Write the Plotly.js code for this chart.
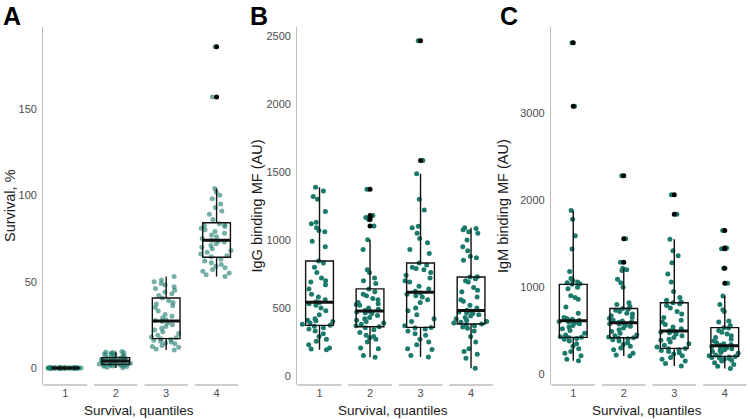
<!DOCTYPE html>
<html><head><meta charset="utf-8">
<script src="https://cdn.plot.ly/plotly-3.0.1.min.js"></script>
<style>html,body{margin:0;padding:0;background:#fff}#chart{width:750px;height:419px}</style>
</head><body><div id="chart"></div>
<script>
// ---------- data ----------
const categories = [1, 2, 3, 4];
const tickLabels = ['1', '2', '3', '4'];

// Panel A: Survival, %
const survivalQ1 = [0,0,0,0,0,0,0,0,0,0,0,0,0,0,0,0,0,0,0,0,0,0,0,0,0,0,0,0,0,0,0,0,0,0,0,0,0,0,0,0,0,0,0,0,0];
const survivalQ2 = [0.2,0.5,0.8,1,1.1,1.3,1.5,1.6,1.8,1.9,2,2,2.1,2.3,2.5,2.7,2.9,3,3.2,3.4,3.5,3.7,3.8,3.9,4,4.1,4.3,4.5,4.7,4.9,5,5.2,5.4,5.5,5.7,5.8,6,6.1,6.5,7,7.3,7.6,8,8.2,8.5,8.8,9,9.3,9.5];
const survivalQ3 = [10.4,11,12,12.5,13,14,14.5,15,15.5,16,16.5,17,17.5,18,19,20,21,22,23,24,25,26,27,27.5,28,29,30,31,33,35,36,37,38,39,40.5,42,43,44,45,46,47,48,49,50,51,53];
const survivalQ4 = [53,54,55,56,57,58,59,60,61,62,63,64.5,65,66,67,68,69,70,71,72,73,73.5,74,75,76,77,78,79,80,81,82,82.5,83,83.5,86,89,91,93,95,98,100,102,104,157,186];

// Panel B: IgG binding MF (AU)
const iggQ1 = [192,198,205,230,255,270,290,310,330,345,355,365,372,380,390,400,405,410,420,450,480,500,520,530,540,545,560,580,600,640,670,690,700,720,760,800,830,845,950,990,1060,1070,1090,1120,1130,1210,1300,1320,1360,1388];
const iggQ2 = [138,150,200,205,250,270,280,290,300,320,340,355,362,370,380,390,400,410,420,430,445,460,465,470,475,481,490,500,520,525,530,540,560,570,590,600,620,640,680,700,720,760,780,930,1001,1102,1150,1165,1180,1373];
const iggQ3 = [140,150,195,200,230,250,270,300,310,330,345,352,357,370,400,420,450,480,500,540,560,580,590,600,610,622,640,660,690,700,720,740,760,780,790,800,815,830,900,930,980,1010,1050,1090,1100,1220,1300,1487,1585,2465];
const iggQ4 = [57,130,160,180,200,250,290,330,350,360,370,378,382,390,395,400,410,420,430,440,450,460,465,470,478,484,500,520,550,560,580,620,630,650,690,700,715,728,730,850,870,880,920,950,1000,1050,1060,1075,1085,1090];

// Panel C: IgM binding MF (AU)
const igmQ1 = [153,170,210,240,260,290,320,350,380,400,410,418,422,430,450,470,500,520,540,560,580,590,600,605,610,618,620,630,640,650,700,770,860,880,900,980,1000,1032,1040,1050,1060,1080,1100,1180,1440,1590,1780,1883,3080,3813];
const igmQ2 = [207,220,240,280,300,320,340,360,380,395,405,412,418,425,440,450,470,490,510,530,550,560,575,580,588,594,600,610,620,640,650,670,690,700,720,735,745,755,780,800,820,1000,1050,1090,1190,1200,1216,1285,1557,2282];
const igmQ3 = [92,120,150,170,190,210,230,245,260,270,280,290,295,310,330,350,370,390,400,420,440,460,475,485,492,498,520,540,570,600,620,650,690,720,760,790,810,820,830,850,880,950,1060,1150,1280,1360,1420,1550,1838,2064];
const igmQ4 = [65,90,110,130,150,160,170,180,185,190,195,200,203,210,220,240,250,260,270,280,290,300,310,318,322,330,340,350,360,380,400,420,440,460,480,500,530,534,560,600,610,720,740,800,898,1045,1216,1442,1450,1653];

const yTitles = ['Survival, %', 'IgG binding MF (AU)', 'IgM binding MF (AU)'];
const xTitle = 'Survival, quantiles';
const panelLetters = ['A', 'B', 'C'];
const yTicks = [[0, 50, 100, 150], [0, 500, 1000, 1500, 2000, 2500], [0, 1000, 2000, 3000]];

// ---------- styling ----------
const panels = [
  {series: [survivalQ1, survivalQ2, survivalQ3, survivalQ4], ax: '', domain: [0.0577, 0.3183], yrange: [-9.85, 197.5], opacity: 0.6, titleX: 10, letterX: 12},
  {series: [iggQ1, iggQ2, iggQ3, iggQ4], ax: '2', domain: [0.3964, 0.6577], yrange: [-66.6, 2566], opacity: 1, titleX: 256.5, letterX: 259},
  {series: [igmQ1, igmQ2, igmQ3, igmQ4], ax: '3', domain: [0.7347, 0.996], yrange: [-126, 3993], opacity: 1, titleX: 503, letterX: 509}
];
const teal = '#1b7a6c';
const boxLine = '#111111';
const font = 'Liberation Sans, Arial, sans-serif';

function median(arr) {
  const s = [...arr].sort((a, b) => a - b);
  const n = s.length;
  return n % 2 ? s[(n - 1) / 2] : (s[n / 2 - 1] + s[n / 2]) / 2;
}

const traces = [];
const shapes = [];
const annotations = [];
const layout = {
  width: 750, height: 419,
  margin: {l: 0, r: 0, t: 27, b: 34},
  paper_bgcolor: '#fff', plot_bgcolor: '#fff',
  showlegend: false, boxmode: 'overlay',
  font: {family: font, color: '#4d4d4d', size: 11}
};

panels.forEach((p, pi) => {
  const xa = 'x' + p.ax, ya = 'y' + p.ax;
  p.series.forEach((vals, gi) => {
    const cat = categories[gi];
    const xs = vals.map(() => cat);
    // jittered points
    traces.push({
      type: 'box', x: xs, y: vals, xaxis: xa, yaxis: ya,
      boxpoints: 'all', jitter: 1, pointpos: 0, width: 0.7,
      fillcolor: 'rgba(0,0,0,0)', line: {color: 'rgba(0,0,0,0)', width: 0},
      marker: {color: teal, size: 5, opacity: p.opacity},
      hoverinfo: 'skip'
    });
    // box outline with black outliers
    traces.push({
      type: 'box', x: xs, y: vals, xaxis: xa, yaxis: ya,
      boxpoints: 'outliers', width: 0.55, whiskerwidth: 0,
      fillcolor: 'rgba(0,0,0,0)', line: {color: boxLine, width: 1.4},
      marker: {color: '#000', size: 5, line: {width: 0}},
      hoverinfo: 'skip'
    });
    // thick median line
    const m = median(vals);
    traces.push({
      type: 'box', x: [cat], q1: [m], median: [m], q3: [m], lowerfence: [m], upperfence: [m],
      xaxis: xa, yaxis: ya, width: 0.55, whiskerwidth: 0,
      fillcolor: 'rgba(0,0,0,0)', line: {color: boxLine, width: 3},
      hoverinfo: 'skip'
    });
    // broken baseline segment under each category
    shapes.push({type: 'line', xref: xa, yref: ya + ' domain', x0: cat - 0.43, x1: cat + 0.43, y0: 0, y1: 0,
      line: {color: '#bdbdbd', width: 1.6}});
  });
  layout['xaxis' + p.ax] = {
    domain: p.domain, anchor: ya, range: [0.56, 4.44], type: 'linear',
    tickvals: categories, ticktext: tickLabels, showline: false, showgrid: false, zeroline: false,
    ticks: '', tickfont: {family: font, size: 11, color: '#4d4d4d'}
  };
  layout['yaxis' + p.ax] = {
    domain: [0, 1], anchor: xa, range: p.yrange,
    tickvals: yTicks[pi], showline: true, linecolor: '#bdbdbd', linewidth: 1.2,
    showgrid: false, zeroline: false, ticks: 'outside', ticklen: 3, tickcolor: 'rgba(0,0,0,0)',
    tickfont: {family: font, size: 11, color: '#4d4d4d'}
  };
  const midX = (p.domain[0] + p.domain[1]) / 2 - 0.003;
  annotations.push({xref: 'paper', yref: 'paper', x: midX, y: -0.07, text: xTitle, showarrow: false,
    xanchor: 'center', yanchor: 'middle', font: {family: font, size: 13.5, color: '#1a1a1a'}});
  annotations.push({xref: 'paper', yref: 'paper', x: p.titleX / 750, y: 0.5, text: yTitles[pi], showarrow: false,
    textangle: -90, xanchor: 'center', yanchor: 'middle', font: {family: font, size: 14.5, color: '#1a1a1a'}});
  annotations.push({xref: 'paper', yref: 'paper', x: p.letterX / 750, y: 1.03, text: '<b>' + panelLetters[pi] + '</b>', showarrow: false,
    xanchor: 'center', yanchor: 'middle', font: {family: font, size: 25, color: '#000'}});
});
layout.shapes = shapes;
layout.annotations = annotations;

Plotly.newPlot('chart', traces, layout, {staticPlot: true, displayModeBar: false});
</script></body></html>
